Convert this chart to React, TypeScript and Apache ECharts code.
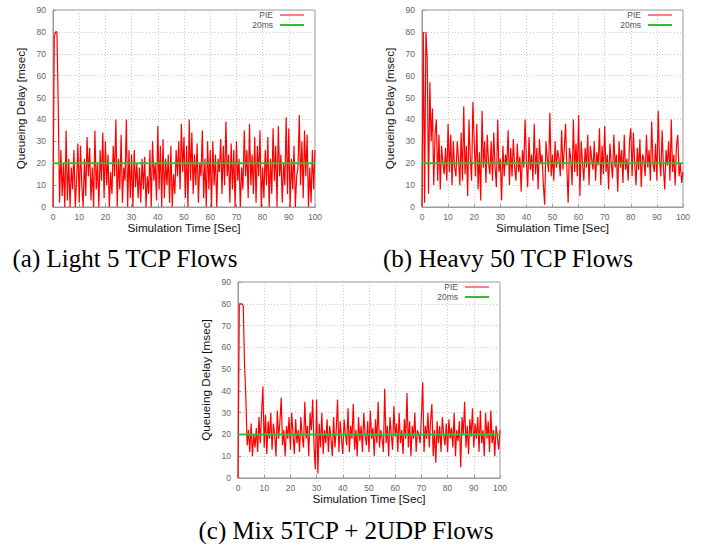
import React, { useEffect, useRef } from "react";
import * as echarts from "echarts";

// Queueing delay samples (msec), one every 0.5 s from 0 to 100 s
const lightValues = [
  0, 78, 80, 80, 46, 2, 26, 5, 20, 0,
  35, 3, 22, 0, 18, 8, 26, 0, 12, 29,
  2, 28, 10, 0, 22, 5, 32, 14, 27, 3,
  18, 0, 35, 8, 20, 0, 26, 12, 34, 4,
  30, 10, 24, 0, 16, 6, 28, 14, 40, 0,
  22, 8, 33, 2, 18, 12, 40, 0, 26, 4,
  24, 0, 26, 9, 20, 4, 18, 2, 22, 8,
  23, 0, 14, 6, 26, 0, 30, 12, 20, 3,
  37, 8, 28, 0, 31, 4, 22, 10, 24, 2,
  28, 0, 15, 6, 26, 14, 30, 8, 38, 16,
  32, 4, 28, 0, 40, 12, 34, 6, 24, 10,
  29, 2, 20, 14, 35, 4, 22, 0, 30, 8,
  26, 0, 30, 10, 24, 0, 22, 16, 31, 6,
  28, 10, 39, 14, 24, 2, 29, 8, 26, 0,
  30, 12, 22, 0, 18, 8, 35, 14, 26, 4,
  38, 10, 24, 6, 32, 2, 28, 14, 35, 0,
  18, 4, 26, 10, 32, 0, 22, 6, 36, 12,
  28, 0, 37, 14, 24, 2, 20, 10, 41, 6,
  36, 0, 22, 8, 28, 0, 14, 18, 42, 10,
  30, 4, 35, 14, 33, 0, 18, 2, 26, 8,
  26,
];

const heavyValues = [
  0, 80, 2, 80, 68, 6, 57, 30, 45, 10,
  33, 40, 12, 33, 8, 28, 20, 15, 27, 12,
  38, 16, 33, 10, 30, 18, 14, 30, 22, 10,
  34, 12, 46, 15, 28, 5, 40, 22, 12, 48,
  30, 14, 38, 8, 25, 3, 44, 18, 30, 11,
  33, 20, 15, 30, 12, 34, 18, 9, 40, 16,
  22, 3, 28, 14, 24, 19, 35, 10, 27, 14,
  31, 18, 12, 29, 16, 23, 7, 26, 18, 40,
  21, 9, 32, 17, 24, 12, 38, 15, 27, 8,
  31, 20, 24, 10, 1, 30, 22, 16, 43, 14,
  24, 12, 30, 18, 26, 22, 14, 35, 17, 26,
  38, 18, 2, 27, 22, 10, 40, 16, 29, 14,
  42, 5, 30, 20, 12, 27, 18, 33, 10, 28,
  22, 17, 30, 12, 25, 19, 36, 10, 28, 15,
  37, 16, 24, 8, 29, 20, 13, 33, 18, 24,
  7, 30, 18, 26, 11, 33, 17, 22, 12, 30,
  36, 14, 34, 20, 10, 27, 17, 31, 9, 24,
  22, 14, 33, 18, 26, 12, 39, 20, 16, 29,
  12, 44, 22, 14, 35, 18, 8, 26, 19, 30,
  12, 40, 16, 24, 10, 28, 33, 14, 20, 11,
  16,
];

const mixValues = [
  0, 80, 80, 80, 79, 52, 37, 15, 22, 12,
  25, 10, 20, 14, 23, 12, 28, 16, 30, 42,
  14, 29, 11, 26, 18, 30, 13, 25, 20, 10,
  31, 18, 26, 37, 15, 22, 10, 24, 18, 28,
  13, 30, 20, 11, 27, 16, 22, 12, 28, 19,
  14, 35, 18, 24, 10, 30, 22, 36, 15, 4,
  36, 2, 25, 14, 30, 11, 22, 16, 27, 12,
  24, 18, 10, 28, 14, 22, 36, 12, 26, 18,
  11, 27, 20, 15, 32, 12, 24, 18, 34, 13,
  22, 10, 28, 17, 24, 12, 30, 20, 15, 26,
  12, 31, 18, 23, 10, 27, 16, 35, 14, 22,
  18, 12, 41, 16, 24, 10, 28, 20, 13, 33,
  19, 25, 12, 30, 16, 22, 11, 27, 18, 39,
  14, 26, 10, 24, 18, 30, 12, 22, 20, 16,
  28, 44, 12, 24, 18, 30, 14, 26, 34, 10,
  22, 7, 26, 16, 24, 12, 28, 20, 15, 25,
  12, 27, 18, 23, 14, 30, 10, 22, 17, 26,
  5, 28, 20, 35, 14, 24, 11, 27, 19, 32,
  14, 25, 18, 28, 12, 31, 16, 22, 10, 30,
  18, 26, 12, 31, 16, 22, 10, 24, 19, 13,
  22,
];

const sampleStep = 0.5; // seconds between samples
const targetDelay = 20; // msec reference line
const timeRange = [0, 100];
const delayRange = [0, 90];
const seriesNames = ["PIE", "20ms"];
const captions = [
  "(a) Light 5 TCP Flows",
  "(b) Heavy 50 TCP Flows",
  "(c) Mix 5TCP + 2UDP Flows",
];
const xTitle = "Simulation Time [Sec]";
const yTitle = "Queueing Delay [msec]";

const panels = [lightValues, heavyValues, mixValues];

const GRIDS = [
  { left: 53, top: 10, width: 262, height: 197 },
  { left: 422, top: 10, width: 261, height: 197 },
  { left: 238, top: 282, width: 262, height: 196 },
];
const CAPTION_POS = [
  { x: 125, y: 258 },
  { x: 508, y: 258 },
  { x: 346, y: 530 },
];

const SANS = "'Liberation Sans', Arial, Helvetica, sans-serif";
const SERIF = "'Liberation Serif', 'Times New Roman', Times, serif";
const RED = "#ff0000";
const GREEN = "#2fbf2f";

export default function App() {
  const ref = useRef<HTMLDivElement>(null);

  useEffect(() => {
    if (!ref.current) return;
    const chart = echarts.init(ref.current, undefined, { renderer: "svg" });

    const axisLine = { show: true, lineStyle: { color: "#9a9a9a", width: 1 } };
    const splitLine = { show: true, lineStyle: { color: "#c8c8c8", type: [1, 2] as any, width: 1 } };

    const xAxis = GRIDS.map((_, i) => ({
      type: "value",
      gridIndex: i,
      min: timeRange[0],
      max: timeRange[1],
      interval: 10,
      axisLine,
      axisTick: { show: true, inside: true, length: 3, lineStyle: { color: "#9a9a9a" } },
      axisLabel: { fontSize: 8.5, color: "#666", margin: 5, fontFamily: SANS },
      splitLine,
      name: xTitle,
      nameLocation: "middle",
      nameGap: 14,
      nameTextStyle: { fontSize: 11.7, color: "#111", fontFamily: SANS },
    }));

    const yAxis = GRIDS.map((_, i) => ({
      type: "value",
      gridIndex: i,
      min: delayRange[0],
      max: delayRange[1],
      interval: 10,
      axisLine,
      axisTick: { show: true, inside: true, length: 3, lineStyle: { color: "#9a9a9a" } },
      axisLabel: { fontSize: 8.5, color: "#666", margin: 7, fontFamily: SANS },
      splitLine,
      name: yTitle,
      nameLocation: "middle",
      nameGap: 27,
      nameTextStyle: { fontSize: 11.7, color: "#111", fontFamily: SANS },
    }));

    const series: any[] = [];
    panels.forEach((vals, i) => {
      series.push({
        type: "line",
        name: seriesNames[0],
        xAxisIndex: i,
        yAxisIndex: i,
        data: vals.map((v, k) => [k * sampleStep, v]),
        showSymbol: false,
        symbol: "none",
        lineStyle: { color: RED, width: 1.2 },
        z: 2,
      });
      series.push({
        type: "line",
        name: seriesNames[1],
        xAxisIndex: i,
        yAxisIndex: i,
        data: [
          [timeRange[0], targetDelay],
          [timeRange[1], targetDelay],
        ],
        showSymbol: false,
        symbol: "none",
        lineStyle: { color: GREEN, width: 2 },
        z: 3,
      });
    });

    const graphic: any[] = [];
    GRIDS.forEach((g) => {
      const right = g.left + g.width;
      [RED, GREEN].forEach((col, j) => {
        const y = g.top + 5 + j * 10;
        graphic.push({
          type: "text",
          x: right - 42,
          y,
          style: {
            text: seriesNames[j],
            textAlign: "right",
            textVerticalAlign: "middle",
            align: "right",
            verticalAlign: "middle",
            fontSize: 8.5,
            fontFamily: SANS,
            fill: "#555",
          },
          z: 10,
        });
        graphic.push({
          type: "line",
          shape: { x1: right - 35, y1: y, x2: right - 11, y2: y },
          style: { stroke: col, lineWidth: j === 0 ? 1 : 2 },
          z: 10,
        });
      });
    });
    captions.forEach((c, i) => {
      graphic.push({
        type: "text",
        x: CAPTION_POS[i].x,
        y: CAPTION_POS[i].y,
        style: {
          text: c,
          textAlign: "center",
          textVerticalAlign: "middle",
          align: "center",
          verticalAlign: "middle",
          fontSize: 25,
          fontFamily: SERIF,
          fill: "#000",
        },
      });
    });

    chart.setOption({
      animation: false,
      backgroundColor: "#ffffff",
      grid: GRIDS.map((g) => ({
        ...g,
        show: true,
        borderColor: "#9a9a9a",
        borderWidth: 1,
        backgroundColor: "transparent",
        containLabel: false,
      })),
      xAxis,
      yAxis,
      series,
      graphic,
    } as any);

    return () => chart.dispose();
  }, []);

  return (
    <div
      ref={ref}
      style={{ position: "fixed", left: 0, top: 0, width: 711, height: 544 }}
    />
  );
}
